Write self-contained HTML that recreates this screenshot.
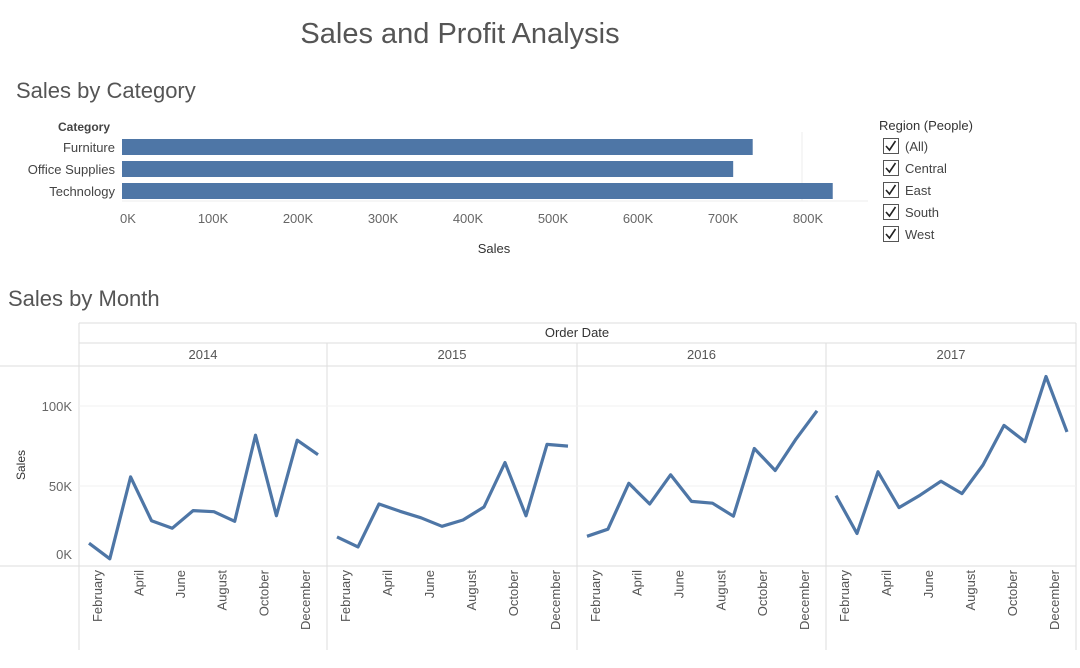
<!DOCTYPE html>
<html><head><meta charset="utf-8"><style>
body{margin:0;background:#fff;font-family:"Liberation Sans",sans-serif}
svg{display:block}
</style></head><body>
<svg id="c" width="1080" height="668" xmlns="http://www.w3.org/2000/svg">
<text x="460" y="43" text-anchor="middle" font-size="29" fill="#555" font-weight="500">Sales and Profit Analysis</text>
<text x="16" y="98" font-size="22" fill="#555">Sales by Category</text>
<text x="8" y="306" font-size="22" fill="#555">Sales by Month</text>
<text x="58" y="131" font-size="12" font-weight="bold" fill="#444">Category</text>
<text x="494" y="253" text-anchor="middle" font-size="13" fill="#333">Sales</text>
<g id="bars"></g>
<g id="legend">
<text x="879" y="130" font-size="13" fill="#333">Region (People)</text>
</g>
<g id="lines"></g>
</svg>
<script>
const ns="http://www.w3.org/2000/svg";
const svg=document.getElementById('c');
function mk(t,a,p){const e=document.createElementNS(ns,t);for(const k in a)e.setAttribute(k,a[k]);(p||svg).appendChild(e);return e;}
// bar chart data
const categories=["Furniture","Office Supplies","Technology"];
const catSales=[741999,719047,836154];
const barTicks=[0,100000,200000,300000,400000,500000,600000,700000,800000];
const bx=v=>122+v*680/800000;
const bg=document.getElementById('bars');
let gl=mk('line',{x1:802,x2:802,y1:132,y2:201,stroke:'#eee'},bg);

let ax=mk('line',{x1:122,x2:868,y1:201,y2:201,stroke:'#eee'},bg);

categories.forEach((c,i)=>{
 const y=139+i*22;
 const r=mk('rect',{x:bx(0),y:y,width:bx(catSales[i])-bx(0),height:16,fill:'#4e76a6'},bg);
 
 
 const t=mk('text',{x:115,y:y+13,'text-anchor':'end','font-size':13,fill:'#444'},bg);t.textContent=c;
 
 
});
barTicks.forEach(v=>{
 const t=mk('text',{x:bx(v)+6,y:223,'text-anchor':'middle','font-size':13,fill:'#666'},bg);
 t.textContent=(v/1000)+'K';
 
 
});
// legend
const regions=["(All)","Central","East","South","West"];
const lg=document.getElementById('legend');
regions.forEach((r,i)=>{
 const y=138+i*22;
 const b=mk('rect',{x:883.5,y:y+0.5,width:15,height:15,fill:'#fff',stroke:'#555'},lg);
 
 
 mk('path',{d:`M${886} ${y+8} l3.5 4 l6 -9`,fill:'none',stroke:'#222','stroke-width':1.6},lg);
 const t=mk('text',{x:905,y:y+13,'font-size':13,fill:'#444'},lg);t.textContent=r;
 
 
});
// line chart data
const years=["2014","2015","2016","2017"];
const sales2014=[14237,4520,55691,28295,23648,34595,33946,27909,81777,31453,78629,69546];
const sales2015=[18174,11951,38726,34195,30132,24797,28765,36898,64595,31405,75973,74920];
const sales2016=[18542,22979,51716,38750,56988,40344,39262,31115,73410,59688,79412,96999];
const sales2017=[43971,20301,58872,36522,44261,52982,45264,63121,87867,77777,118448,83829];
const yTicks=[0,50000,100000];
const monthLabels=["February","April","June","August","October","December"];
const monthIdx=[1,3,5,7,9,11];
const series=[sales2014,sales2015,sales2016,sales2017];
const panelX=[79,327,577,826,1076];
const ly=v=>566-v*160/100000;
const lx=(p,m)=>panelX[p]+10+m*(panelX[p+1]-panelX[p]-19)/11;
const L=document.getElementById('lines');
const frame=[[79,323,1076,323],[79,343,1076,343],[0,366,1076,366],[0,566,1076,566]];
frame.forEach(f=>{const l=mk('line',{x1:f[0],y1:f[1],x2:f[2],y2:f[3],stroke:'#ddd'},L);
 });
panelX.forEach((x,i)=>{const l=mk('line',{x1:x,x2:x,y1:i==0||i==4?323:343,y2:650,stroke:'#ddd'},L);
 });
yTicks.forEach(v=>{
 if(v>0){const g=mk('line',{x1:79,x2:1076,y1:ly(v),y2:ly(v),stroke:'#f2f2f2'},L);
 }
 const t=mk('text',{x:72,y:v==0?559:ly(v)+5,'text-anchor':'end','font-size':13,fill:'#666'},L);
 t.textContent=(v/1000)+'K';
 
 
});
let yt=mk('text',{x:0,y:0,'font-size':12,fill:'#333','text-anchor':'middle',transform:'translate(25,465) rotate(-90)'},L);
yt.textContent='Sales';
let od=mk('text',{x:577,y:337,'font-size':13,fill:'#333','text-anchor':'middle'},L);
od.textContent='Order Date';
years.forEach((yr,p)=>{
 const t=mk('text',{x:(panelX[p]+panelX[p+1])/2,y:359,'font-size':13,fill:'#555','text-anchor':'middle'},L);
 t.textContent=yr;
 const d=series[p].map((v,m)=>(m?'L':'M')+lx(p,m).toFixed(1)+' '+ly(v).toFixed(1)).join(' ');
 const pa=mk('path',{d:d,fill:'none',stroke:'#4e76a6','stroke-width':3.2,'stroke-linejoin':'round'},L);
 
 monthIdx.forEach((m,k)=>{
  const x=lx(p,m)-8;
  const lt=mk('text',{x:0,y:0,'font-size':13,fill:'#555','text-anchor':'end',transform:`translate(${x},570) rotate(-90)`},L);
  lt.textContent=monthLabels[k];
  
  
 });
});
</script>
</body></html>
